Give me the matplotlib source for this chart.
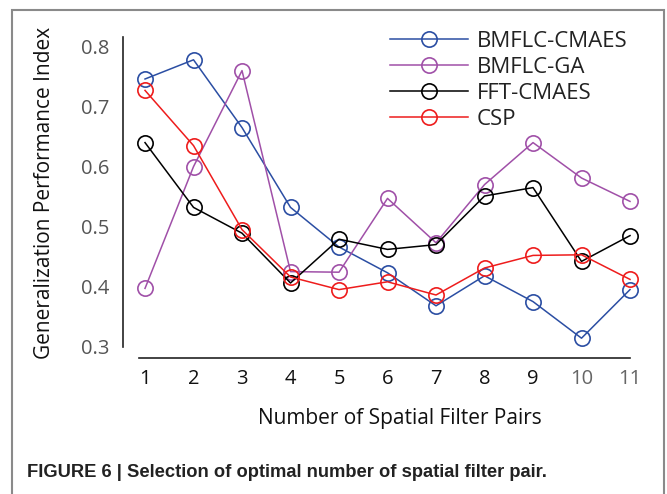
import numpy as np
import matplotlib
matplotlib.use("Agg")
import matplotlib.pyplot as plt
from matplotlib.patches import Rectangle

# data
pairs = [1, 2, 3, 4, 5, 6, 7, 8, 9, 10, 11]
bmflc_cmaes = [0.746, 0.778, 0.665, 0.532, 0.466, 0.423, 0.368, 0.418, 0.375, 0.314, 0.395]
bmflc_ga = [0.397, 0.600, 0.760, 0.425, 0.424, 0.547, 0.473, 0.570, 0.640, 0.581, 0.542]
fft_cmaes = [0.640, 0.532, 0.489, 0.406, 0.479, 0.462, 0.470, 0.551, 0.565, 0.442, 0.485]
csp = [0.727, 0.635, 0.495, 0.416, 0.395, 0.408, 0.386, 0.431, 0.452, 0.453, 0.412]
yticks = [0.3, 0.4, 0.5, 0.6, 0.7, 0.8]

W, H = 667, 494
plt.rcParams['font.family'] = ['Open Sans', 'DejaVu Sans']
fig = plt.figure(figsize=(W / 100, H / 100), dpi=100)

# outer frame
fig.patches.append(Rectangle((12 / W, -0.1), (664 - 12) / W, 1.1 - 10 / H,
                             transform=fig.transFigure, fill=False,
                             edgecolor='#8a8a8a', lw=1.5))

ax = fig.add_axes([123 / W, (H - 358) / H, (640 - 123) / W, (358 - 37) / H])
ax.set_xlim(0.546, 11.206)
ax.set_ylim(0.281, 0.816)

lw = 1.1
ms = 11
series = [(bmflc_cmaes, '#2b4ea3', 'BMFLC-CMAES'),
          (bmflc_ga, '#a050a8', 'BMFLC-GA'),
          (fft_cmaes, '#000000', 'FFT-CMAES'),
          (csp, '#ee1c1c', 'CSP')]
for vals, c, lab in series:
    ax.plot(pairs, vals, color=c, lw=lw, marker='o', ms=ms, mfc='none',
            mec=c, mew=1.2, label=lab)

for s in ['top', 'right']:
    ax.spines[s].set_visible(False)
ax.spines['left'].set_bounds(0.3, 0.816)
ax.spines['bottom'].set_bounds(0.876, 11)
for s in ['left', 'bottom']:
    ax.spines[s].set_color('#222222')
    ax.spines[s].set_linewidth(1.2)

ax.set_xticks(pairs)
ax.set_yticks(yticks)
ax.set_yticklabels(['%.1f' % v for v in yticks])
ax.tick_params(axis='both', length=0, labelsize=14.5)
ax.tick_params(axis='y', pad=10, labelcolor='#555555')
ax.tick_params(axis='x', pad=8, labelcolor='#111111')
for t in ax.get_xticklabels()[9:]:
    t.set_color('#666666')

fig.text(399.5 / W, 1 - 418 / H, 'Number of Spatial Filter Pairs', fontsize=15,
         ha='center', va='center', color='#111111')
fig.text(45 / W, 1 - 193 / H, 'Generalization Performance Index', fontsize=15,
         ha='center', va='center', rotation=90, color='#111111')

ax.legend(loc='upper left', bbox_to_anchor=(390 / W, 1 - 31 / H),
          bbox_transform=fig.transFigure, frameon=False, fontsize=16,
          handlelength=3.5, handletextpad=0.4, labelspacing=0.22,
          borderpad=0, borderaxespad=0, numpoints=1, labelcolor='#222222')

fig.text(27 / W, 1 - 472 / H,
         'FIGURE 6 | Selection of optimal number of spatial filter pair.',
         fontsize=13.2, fontweight='bold', family='Liberation Sans',
         ha='left', va='center', color='#222222')

fig.savefig('out.png', dpi=100)
